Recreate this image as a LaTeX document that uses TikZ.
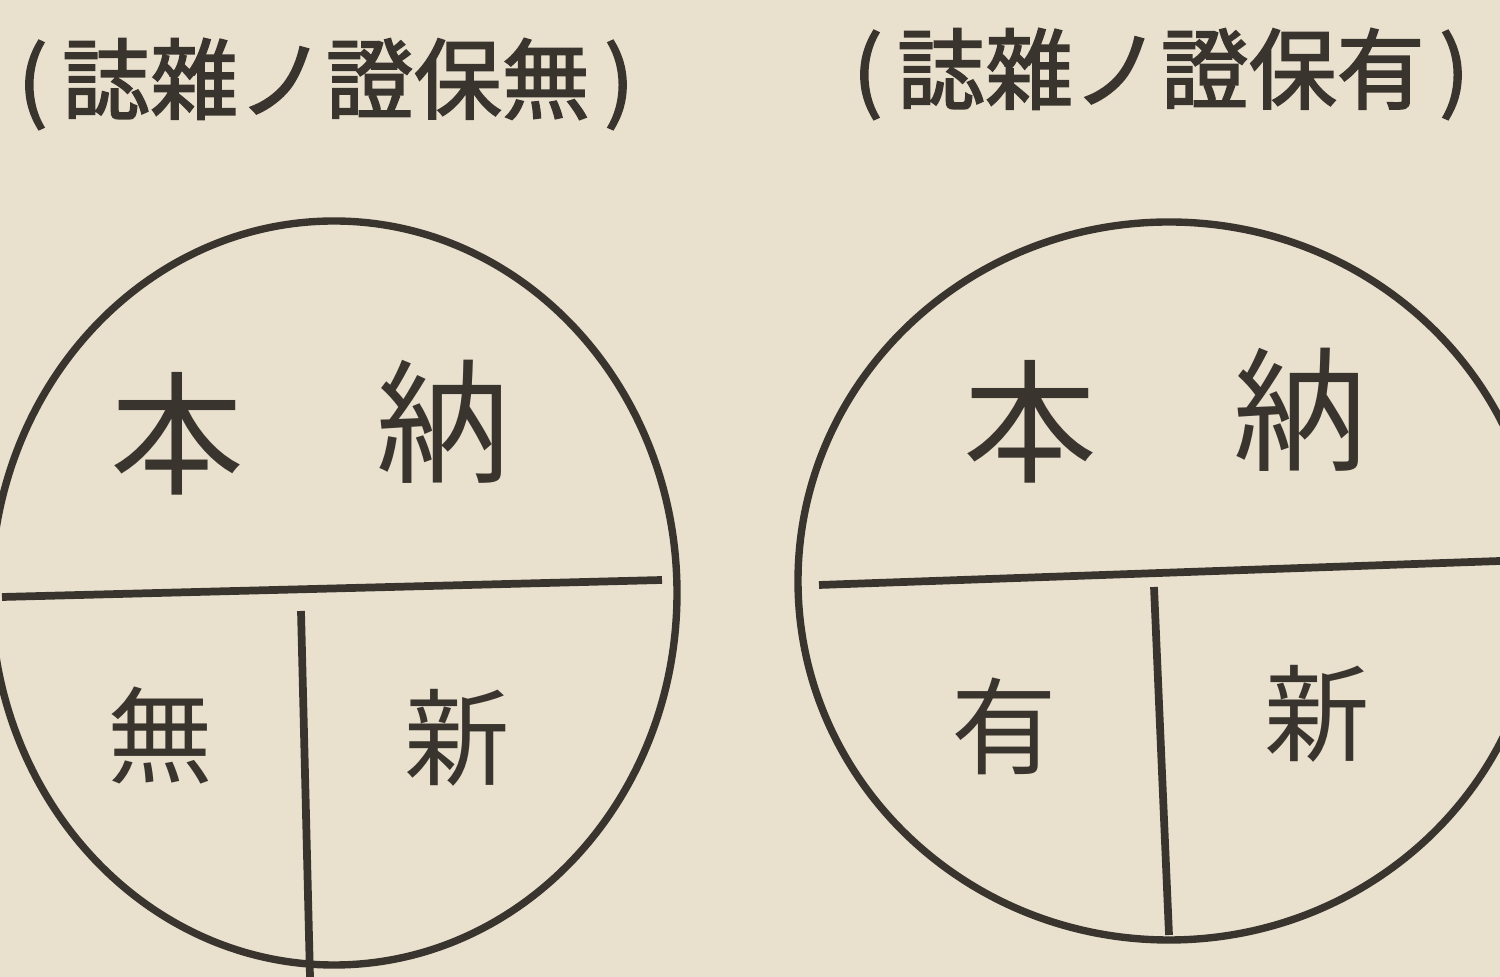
\documentclass[tikz,border=0pt]{standalone}
\usepackage{fontspec}
\newfontfamily\cjk{Noto Sans CJK JP}
\newfontfamily\cjkTitle[FakeBold=2]{Noto Sans CJK JP}
\definecolor{paperColor}{HTML}{E9E1CE}
\definecolor{inkColor}{HTML}{3A342E}

\begin{document}
\begin{tikzpicture}[x=0.01cm,y=-0.01cm]

          \tikzstyle{titleNode} = [inkColor, inner sep=0pt, font=\cjkTitle\fontsize{25pt}{25pt}\selectfont];
          \tikzstyle{bigChar} = [inkColor, inner sep=0pt, font=\cjk\fontsize{38pt}{38pt}\selectfont];
          \tikzstyle{smallChar} = [inkColor, inner sep=0pt, font=\cjk\fontsize{30pt}{30pt}\selectfont];

          \tikzstyle{rimLine} = [inkColor, line width=2.1pt];
          \tikzstyle{divLine} = [inkColor, line width=2.2pt];

          \fill[paperColor] (0,0) rectangle (1500,977);
          \useasboundingbox (0,0) rectangle (1500,977);
          \clip (0,0) rectangle (1500,977);

          % left: without guarantee
          \node[titleNode] (titleNo) at (326,84) {(\,誌雜ノ證保無\,)};
          \draw[rimLine] (334,593) ellipse [x radius=343, y radius=372];
          \draw[divLine] (2,597) -- (662,580);
          \draw[divLine] (301,611) -- (310,977);
          \node[bigChar] (benNo) at (177,434) {本};
          \node[bigChar] (naNo) at (443,422) {納};
          \node[smallChar] (wuNo) at (160,736) {無};
          \node[smallChar] (xinNo) at (457,738) {新};

          % right: with guarantee
          \node[titleNode] (titleYes) at (1161,74) {(\,誌雜ノ證保有\,)};
          \draw[rimLine] (1169,581) ellipse [x radius=371, y radius=359];
          \draw[divLine] (819,585) -- (1500,561);
          \draw[divLine] (1154,587) -- (1169,935);
          \node[bigChar] (benYes) at (1030,422) {本};
          \node[bigChar] (naYes) at (1300,410) {納};
          \node[smallChar] (youYes) at (1004,726) {有};
          \node[smallChar] (xinYes) at (1317,714) {新};
        \end{tikzpicture}
\end{document}
